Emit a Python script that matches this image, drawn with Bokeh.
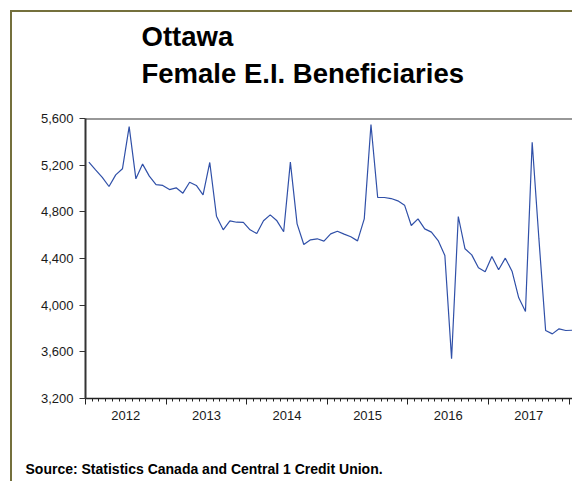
from bokeh.plotting import figure
from bokeh.models import (FixedTicker, NumeralTickFormatter, Span, Title, LinearAxis, Range1d)
from bokeh.embed import file_html
from bokeh.resources import INLINE

# ---------------- data ----------------
years = ["2012", "2013", "2014", "2015", "2016", "2017"]
# monthly Female E.I. beneficiaries, Ottawa, Jan 2012 .. Jan 2018
beneficiaries = [
    5226, 5160, 5095, 5017, 5117, 5169, 5531, 5083, 5209, 5106, 5034, 5026,   # 2012
    4991, 5006, 4960, 5054, 5026, 4946, 5223, 4763, 4646, 4723, 4711, 4709,   # 2013
    4646, 4614, 4723, 4774, 4723, 4629, 5226, 4697, 4520, 4560, 4569, 4549,   # 2014
    4611, 4634, 4609, 4586, 4551, 4740, 5549, 4923, 4923, 4914, 4894, 4857,   # 2015
    4683, 4740, 4654, 4626, 4554, 4426, 3540, 4760, 4483, 4431, 4320, 4286,   # 2016
    4417, 4303, 4403, 4291, 4063, 3946, 5397, 4570, 3783, 3754, 3797, 3783,   # 2017
    3785,                                                                     # 2018
]
y_ticks = [3200, 3600, 4000, 4400, 4800, 5200, 5600]
title_lines = ["Ottawa", "Female E.I. Beneficiaries"]
source_note = "Source: Statistics Canada and Central 1 Credit Union."

# ---------------- layout ----------------
OFF = 12                      # page offset of the canvas (margin + olive border)
W, H = 574 - OFF, 483 - OFF
LEFT, TOP = 85 - OFF, 118 - OFF
BOTTOM = H - (398 - OFF)
X_END = 72.8
Y0, Y1 = 3200, 5600

month_pos = [i + 0.5 for i in range(len(beneficiaries))]
year_start = [12 * i for i in range(len(years) + 1)]
year_mid = [12 * i + 6 for i in range(len(years))]

FONT = "Liberation Sans"
OLIVE = "#74703c"

p = figure(width=W, height=H, output_backend="svg", toolbar_location=None,
           x_range=Range1d(0, X_END), y_range=Range1d(Y0, Y1),
           min_border_left=LEFT, min_border_right=0,
           min_border_top=TOP, min_border_bottom=BOTTOM,
           background_fill_color="white", border_fill_color="white",
           outline_line_color=None)
p.margin = (10, 0, 0, 10)
p.styles = {"border-left": f"2px solid {OLIVE}", "border-top": f"2px solid {OLIVE}"}
p.grid.visible = False

# y axis
ya = p.yaxis[0]
ya.ticker = FixedTicker(ticks=y_ticks)
ya.formatter = NumeralTickFormatter(format="0,0")
ya.major_tick_out = 6
ya.major_tick_in = 0
ya.minor_tick_out = 0
ya.minor_tick_in = 0
ya.axis_line_width = 2
ya.axis_line_color = "#333333"
ya.major_tick_line_color = "#333333"
ya.major_label_standoff = 6
ya.major_label_text_font = FONT
ya.major_label_text_font_size = "13px"
ya.major_label_text_color = "#1a1a1a"

# x axis: year boundaries (long ticks) and months (short ticks), no labels
xa = p.xaxis[0]
xa.ticker = FixedTicker(ticks=year_start, minor_ticks=list(range(0, 73)))
xa.major_tick_out = 6
xa.major_tick_in = 0
xa.minor_tick_out = 3
xa.minor_tick_in = 0
xa.axis_line_width = 1.3
xa.axis_line_color = "#222222"
xa.major_tick_line_color = "#222222"
xa.minor_tick_line_color = "#222222"
xa.major_label_overrides = {m: "" for m in year_start}
xa.major_label_text_font_size = "0px"
xa.major_label_standoff = 0

# year labels centred under each year (second axis, stacked below)
xl = LinearAxis(ticker=FixedTicker(ticks=year_mid, minor_ticks=[]),
                major_label_overrides={m: y for m, y in zip(year_mid, years)})
xl.axis_line_color = None
xl.major_tick_line_color = None
xl.minor_tick_line_color = None
xl.major_tick_out = 0
xl.major_tick_in = 0
xl.major_label_standoff = 6
xl.major_label_text_font = FONT
xl.major_label_text_font_size = "13px"
xl.major_label_text_color = "#1a1a1a"
p.add_layout(xl, "below")

# top frame line
p.add_layout(Span(location=Y1, dimension="width", line_color="#333333", line_width=2))

# series
p.line(x=month_pos, y=beneficiaries, line_color="#3050a8", line_width=1.2)

# title (two lines), with an empty spacer between it and the plot
p.add_layout(Title(text=" ", text_font_size="1px", standoff=24), "above")
p.add_layout(Title(text="\n".join(title_lines), align="left", offset=56,
                   text_font=FONT, text_font_size="27.5px", text_font_style="bold",
                   text_color="black", text_line_height=1.2, standoff=4), "above")

# source note, with an empty spacer below the year labels
p.add_layout(Title(text=" ", text_font_size="1px", standoff=30.5), "below")
p.add_layout(Title(text=source_note, align="left", offset=-60,
                   text_font=FONT, text_font_size="14px", text_font_style="bold",
                   text_color="black", standoff=4), "below")

open("out.html", "w").write(file_html(p, INLINE))
